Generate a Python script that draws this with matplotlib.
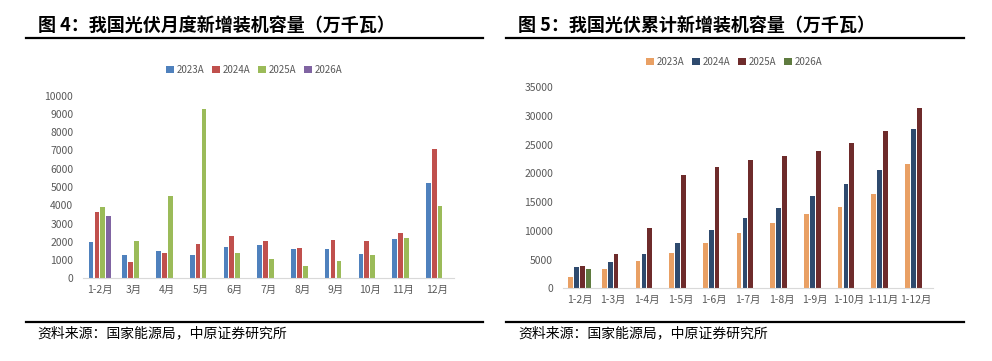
import numpy as np
import matplotlib
matplotlib.use('Agg')
import matplotlib.pyplot as plt
from matplotlib.lines import Line2D

plt.rcParams['font.family'] = ['Noto Sans CJK SC', 'DejaVu Sans']

# monthly new PV capacity (10k kW)
months = ['1-2月', '3月', '4月', '5月', '6月', '7月', '8月', '9月', '10月', '11月', '12月']
m2023 = [2000, 1300, 1480, 1300, 1700, 1850, 1600, 1580, 1350, 2130, 5200]
m2024 = [3650, 920, 1400, 1900, 2330, 2060, 1640, 2080, 2030, 2500, 7100]
m2025 = [3920, 2020, 4520, 9290, 1400, 1080, 700, 970, 1260, 2200, 3980]
m2026 = [3400]

# cumulative new PV capacity (10k kW)
cum_labels = ['1-2月', '1-3月', '1-4月', '1-5月', '1-6月', '1-7月', '1-8月',
              '1-9月', '1-10月', '1-11月', '1-12月']
c2023 = [2030, 3370, 4760, 6210, 7890, 9640, 11380, 13000, 14220, 16430, 21650]
c2024 = [3770, 4590, 6040, 7950, 10160, 12250, 13990, 16080, 18170, 20600, 27740]
c2025 = [3890, 6040, 10500, 19730, 21130, 22350, 23040, 23910, 25300, 27400, 31400]
c2026 = [3370]

series_names = ['2023A', '2024A', '2025A', '2026A']
left_colors = ['#4F81BD', '#C0504D', '#9BBB59', '#8064A2']
right_colors = ['#E9A064', '#2E4A6E', '#6E2B2B', '#5F7B3F']

grey = '#595959'

fig = plt.figure(figsize=(9.92, 3.61), dpi=100)


def bar_panel(ax, labels, data, colors, ymax, ystep):
    slot = 0.175
    w = 0.14
    for i, (vals, c) in enumerate(zip(data, colors)):
        x = np.arange(len(vals)) + (i - 1.5) * slot
        ax.bar(x, vals, width=w, color=c, label=series_names[i])
    ax.set_xlim(-0.5, len(labels) - 0.5)
    ax.set_ylim(0, ymax)
    ax.set_yticks(np.arange(0, ymax + 1, ystep))
    ax.set_xticks(np.arange(len(labels)))
    ax.set_xticklabels(labels)
    for s in ['top', 'right', 'left']:
        ax.spines[s].set_visible(False)
    ax.spines['bottom'].set_color('#D9D9D9')
    ax.tick_params(length=0, labelsize=7.5, colors=grey)
    ax.tick_params(axis='x', pad=5)
    ax.tick_params(axis='y', pad=7)


ax1 = fig.add_axes([0.0837, 0.229, 0.374, 0.506])
bar_panel(ax1, months, [m2023, m2024, m2025, m2026], left_colors, 10000, 1000)

ax2 = fig.add_axes([0.5672, 0.2014, 0.3734, 0.5568])
bar_panel(ax2, cum_labels, [c2023, c2024, c2025, c2026], right_colors, 35000, 5000)

for ax, cx, cy in [(ax1, 254 / 992, 1 - 70 / 361), (ax2, 734 / 992, 1 - 62 / 361)]:
    h, l = ax.get_legend_handles_labels()
    fig.legend(h, l, loc='center', bbox_to_anchor=(cx, cy), ncol=4, frameon=False,
               fontsize=7, labelcolor=grey, handlelength=0.8, handleheight=0.8,
               handletextpad=0.3, columnspacing=0.8)

# titles
fig.text(38 / 992, 1 - 25 / 361, '图 4：我国光伏月度新增装机容量（万千瓦）',
         fontsize=13, fontweight='bold', va='center', ha='left')
fig.text(518 / 992, 1 - 25 / 361, '图 5：我国光伏累计新增装机容量（万千瓦）',
         fontsize=13, fontweight='bold', va='center', ha='left')

# rules
for x0, x1 in [(26, 483), (506, 964)]:
    for y in [38, 322]:
        fig.add_artist(Line2D([x0 / 992, x1 / 992], [1 - y / 361, 1 - y / 361],
                              color='black', lw=1.6, transform=fig.transFigure))

# source notes
fig.text(37 / 992, 1 - 333 / 361, '资料来源：国家能源局，中原证券研究所',
         fontsize=10, va='center', ha='left')
fig.text(518 / 992, 1 - 333 / 361, '资料来源：国家能源局，中原证券研究所',
         fontsize=10, va='center', ha='left')

fig.savefig('out.png', dpi=100)
